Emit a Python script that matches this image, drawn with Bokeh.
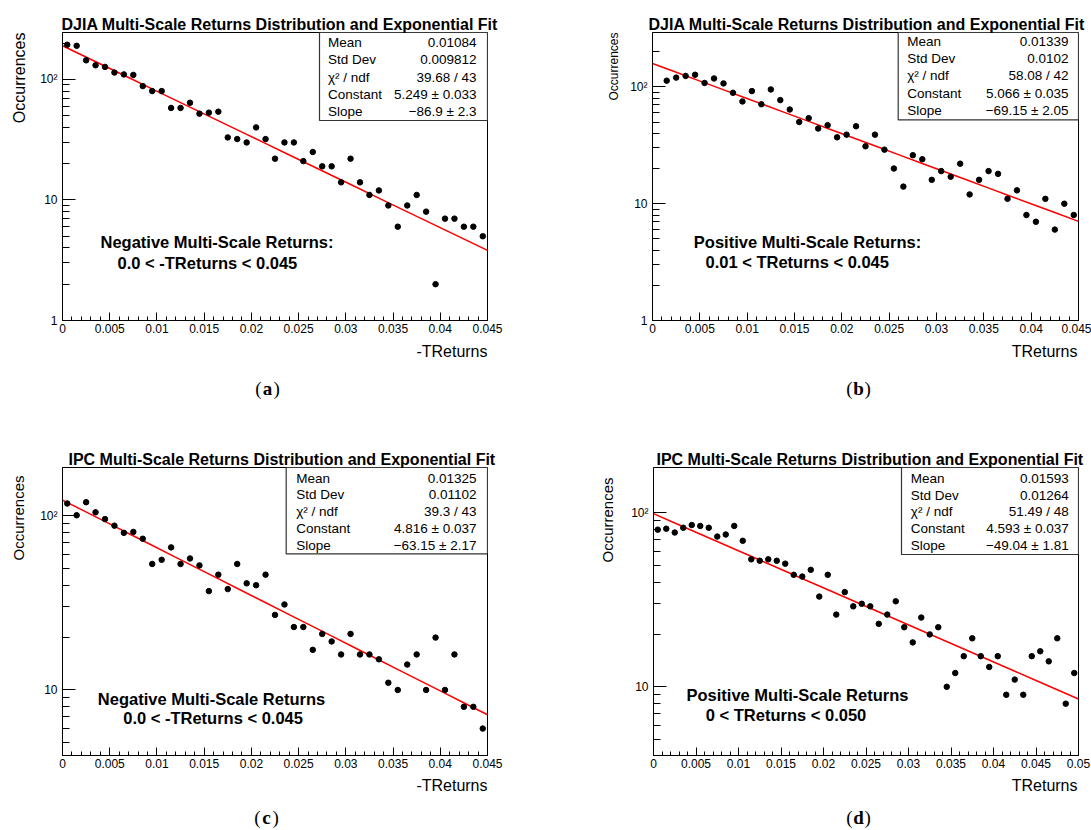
import numpy as np
from bokeh.plotting import figure
from bokeh.models import (FixedTicker, CustomJSTickFormatter, Label, BoxAnnotation, Range1d,
                          ColumnDataSource, Title)
from bokeh.layouts import row, column
from bokeh.embed import file_html
from bokeh.resources import INLINE

# ---------------- data ----------------
bin_width = 0.001

djia_neg_counts = [194, 190, 144, 131, 127, 114, 110, 109, 88, 80,
                   80, 58, 58, 64, 52, 53, 54, 33, 32, 30,
                   40, 32, 22, 30, 30, 21, 25, 19, 19, 14,
                   22, 14, 11, 12, 9, 6, 9, 11, 8, 2,
                   7, 7, 6, 6, 5]
djia_pos_counts = [0, 113, 120, 124, 127, 108, 118, 107, 89, 75,
                   92, 71, 95, 77, 64, 50, 54, 44, 47, 37,
                   39, 46, 31, 39, 29, 20, 14, 26, 24, 16,
                   19, 17, 22, 12, 16, 19, 18, 11, 13, 8,
                   7, 11, 6, 10, 8]
ipc_neg_counts = [118, 101, 120, 105, 96, 88, 80, 81, 74, 53,
                  56, 66, 53, 57, 52, 37, 46, 38, 53, 41,
                  40, 46, 27, 31, 23, 23, 17, 21, 19, 16,
                  21, 16, 16, 15, 11, 10, 14, 16, 10, 20,
                  10, 16, 8, 8, 6]
ipc_pos_counts = [80, 81, 77, 82, 85, 84, 82, 73, 75, 84,
                  69, 54, 53, 54, 53, 51, 44, 43, 47, 33,
                  44, 26, 35, 29, 30, 29, 23, 26, 31, 22,
                  18, 25, 20, 22, 10, 12, 15, 19, 15, 13,
                  15, 9, 11, 9, 15, 16, 14, 19, 8, 12]

fit_constants = [5.249, 5.066, 4.816, 4.593]
fit_slopes = [-86.9, -69.15, -63.15, -49.04]

stat_names = ["Mean", "Std Dev", "χ² / ndf", "Constant", "Slope"]
djia_neg_stats = ["0.01084", "0.009812", "39.68 / 43", "5.249 ± 0.033", "−86.9 ± 2.3"]
djia_pos_stats = ["0.01339", "0.0102", "58.08 / 42", "5.066 ± 0.035", "−69.15 ± 2.05"]
ipc_neg_stats = ["0.01325", "0.01102", "39.3 / 43", "4.816 ± 0.037", "−63.15 ± 2.17"]
ipc_pos_stats = ["0.01593", "0.01264", "51.49 / 48", "4.593 ± 0.037", "−49.04 ± 1.81"]

titles = ["DJIA Multi-Scale Returns Distribution and Exponential Fit",
          "DJIA Multi-Scale Returns Distribution and Exponential Fit",
          "IPC Multi-Scale Returns Distribution and Exponential Fit",
          "IPC Multi-Scale Returns Distribution and Exponential Fit"]
x_labels = ["-TReturns", "TReturns", "-TReturns", "TReturns"]
y_label = "Occurrences"
notes = [("Negative Multi-Scale Returns:", "0.0 < -TReturns < 0.045"),
         ("Positive Multi-Scale Returns:", "0.01 < TReturns < 0.045"),
         ("Negative Multi-Scale Returns", "0.0 < -TReturns < 0.045"),
         ("Positive Multi-Scale Returns", "0 < TReturns < 0.050")]
caption_letters = ["a", "b", "c", "d"]

x_ticks_045 = [0.0, 0.005, 0.01, 0.015, 0.02, 0.025, 0.03, 0.035, 0.04, 0.045]
x_ticks_050 = [0.0, 0.005, 0.01, 0.015, 0.02, 0.025, 0.03, 0.035, 0.04, 0.045, 0.05]
y_ticks = [1, 10, 100]
y_minor = [2, 3, 4, 5, 6, 7, 8, 9, 20, 30, 40, 50, 60, 70, 80, 90, 200, 300, 400, 500, 600, 700, 800, 900]
x_max = [0.045, 0.045, 0.045, 0.05]
y_ranges = [(1, 245), (1, 292), (4.2, 190), (4.03, 182)]

# ---------------- layout (page pixel geometry) ----------------
# ylab = (font px, standoff, offset from frame top) of the rotated axis title
panels = [
    dict(counts=djia_neg_counts, stats=djia_neg_stats, xt=x_ticks_045,
         main_cv=(0, 0, 553, 340), below_cv=(0, 340, 553, 60),
         frame=(62, 32, 487, 320), title_off=-1,
         ylab=(16, 16, 0), xlab=(487, 351), cap=(267, 388),
         note_pos=[(100, 241), (117, 262)],
         box=(319, 32, 487, 120), txt_lr=(327.5, 476), rows=(42, 17.25)),
    dict(counts=djia_pos_counts, stats=djia_pos_stats, xt=x_ticks_045,
         main_cv=(553, 0, 538, 340), below_cv=(553, 340, 538, 60),
         frame=(652, 32, 1078, 320), title_off=-4,
         ylab=(12, 8.6, 0), xlab=(1077, 351), cap=(858, 388),
         note_pos=[(693.3, 241.7), (705, 261.7)],
         box=(897.7, 32, 1078, 119.3), txt_lr=(906.7, 1068), rows=(41, 17.2)),
    dict(counts=ipc_neg_counts, stats=ipc_neg_stats, xt=x_ticks_045,
         main_cv=(0, 400, 553, 375), below_cv=(0, 775, 553, 55),
         frame=(62, 467, 487, 755), title_off=6,
         ylab=(15, 18, 8), xlab=(487, 785), cap=(266, 817),
         note_pos=[(97.3, 698.3), (122.7, 717.3)],
         box=(285.7, 467, 487, 553.3), txt_lr=(295.7, 476), rows=(477.7, 16.75)),
    dict(counts=ipc_pos_counts, stats=ipc_pos_stats, xt=x_ticks_050,
         main_cv=(553, 400, 538, 375), below_cv=(553, 775, 538, 55),
         frame=(653, 467, 1078, 755), title_off=3,
         ylab=(15, 20.8, 10), xlab=(1077, 785), cap=(858, 817),
         note_pos=[(686, 694.3), (705.3, 714.3)],
         box=(901, 467, 1078, 554), txt_lr=(910.3, 1068.3), rows=(477.7, 16.8)),
]

SANS = "Liberation Sans"
SERIF = "Liberation Serif"

x_fmt = CustomJSTickFormatter(code="""
let s = tick.toFixed(4);
s = s.replace(/0+$/, '');
if (s.endsWith('.')) { s = s.slice(0, -1); }
return s;
""")
y_fmt = CustomJSTickFormatter(code="""
if (tick >= 99) { return "10²"; }
return tick.toFixed(0);
""")


def add_text(p, frame, px, py, text, size, font=SANS, bold=False, align="left",
             baseline="middle", angle=0.0):
    fl, ft, fr, fb = frame
    p.add_layout(Label(x=px - fl, y=fb - py, x_units="screen", y_units="screen",
                       text=text, text_font=font, text_font_size=f"{size}px",
                       text_font_style="bold" if bold else "normal",
                       text_align=align, text_baseline=baseline, angle=angle,
                       text_color="black"))


def strip_fig(cv, fl, fr):
    """Text strip under a plot; its frame spans the same x extent as the plot frame."""
    x0, y0, w, h = cv
    p = figure(width=w, height=h, output_backend="svg", toolbar_location=None,
               title=None,
               x_range=Range1d(0, 1), y_range=Range1d(0, 1),
               x_axis_location=None, y_axis_location=None,
               min_border_left=fl - x0, min_border_right=(x0 + w) - fr,
               min_border_top=0, min_border_bottom=0)
    p.outline_line_color = None
    p.background_fill_color = "white"
    p.border_fill_color = "white"
    p.grid.visible = False
    return p, (fl, y0, fr, y0 + h)


def make_panel(i, cfg):
    # ---- main plot ----
    cx, cy, cw, ch = cfg["main_cv"]
    fl, ft, fr, fb = cfg["frame"]
    lo, hi = y_ranges[i]
    p = figure(width=cw, height=ch, output_backend="svg", toolbar_location=None,
               y_axis_type="log",
               x_range=Range1d(0, x_max[i]), y_range=Range1d(lo, hi),
               min_border_left=fl - cx, min_border_right=(cx + cw) - fr,
               min_border_top=ft - cy, min_border_bottom=(cy + ch) - fb)
    p.title.text = titles[i]
    p.title.align = "left"
    p.title.offset = cfg["title_off"]
    p.title.text_font = SANS
    p.title.text_font_size = "16px"
    p.title.text_font_style = "bold"
    p.title.text_color = "black"
    p.title.standoff = 0

    p.background_fill_color = "white"
    p.border_fill_color = "white"
    p.outline_line_color = "black"
    p.outline_line_alpha = 1
    p.outline_line_width = 1
    p.xgrid.visible = False
    p.ygrid.visible = False

    xt = cfg["xt"]
    n_minor = int(round(x_max[i] / bin_width))
    p.xaxis.ticker = FixedTicker(ticks=xt, minor_ticks=[k * bin_width for k in range(n_minor + 1)])
    p.xaxis.formatter = x_fmt
    p.yaxis.ticker = FixedTicker(ticks=y_ticks, minor_ticks=y_minor)
    p.yaxis.formatter = y_fmt
    for ax, mj, mn, sd in ((p.xaxis, 8, 4, 3), (p.yaxis, 13, 7, 5)):
        ax.major_tick_in = mj
        ax.major_tick_out = 0
        ax.minor_tick_in = mn
        ax.minor_tick_out = 0
        ax.axis_line_color = "black"
        ax.major_tick_line_color = "black"
        ax.minor_tick_line_color = "black"
        ax.major_label_text_font = SANS
        ax.major_label_text_font_size = "12px"
        ax.major_label_text_color = "black"
        ax.major_label_standoff = sd

    # rotated y-axis title, flush with the top of the frame
    ysz, ystand, yoff = cfg["ylab"]
    p.add_layout(Title(text=y_label, align="right", vertical_align="top",
                       offset=yoff, standoff=ystand,
                       text_font=SANS, text_font_size=f"{ysz}px",
                       text_font_style="normal", text_color="black"), "left")

    counts = np.array(cfg["counts"], dtype=float)
    centers = (np.arange(len(counts)) + 0.5) * bin_width
    keep = counts > 0
    src = ColumnDataSource(dict(x=centers[keep], y=counts[keep]))
    xs = np.linspace(0, x_max[i], 20)
    fit = np.exp(fit_constants[i] + fit_slopes[i] * xs)
    p.line(xs, fit, line_color="#ff0000", line_width=1.5)
    p.scatter("x", "y", source=src, size=5.5, color="black", marker="circle")

    frame = cfg["frame"]
    for (nx, ny), line in zip(cfg["note_pos"], notes[i]):
        add_text(p, frame, nx, ny, line, 16.5, bold=True)

    bl, bt, br, bb = cfg["box"]
    p.add_layout(BoxAnnotation(left=bl - fl, right=br - fl, top=fb - bt, bottom=fb - bb,
                               left_units="screen", right_units="screen",
                               top_units="screen", bottom_units="screen",
                               fill_color="white", fill_alpha=1.0,
                               line_color="#333333", line_width=1.2, line_alpha=1.0))
    tl, tr = cfg["txt_lr"]
    r0, dr = cfg["rows"]
    for k, (name, val) in enumerate(zip(stat_names, cfg["stats"])):
        yy = r0 + k * dr
        add_text(p, frame, tl, yy, name, 13.5)
        add_text(p, frame, tr, yy, val, 13.5, align="right")

    # ---- x label + caption strip ----
    pb, bframe = strip_fig(cfg["below_cv"], fl, fr)
    add_text(pb, bframe, cfg["xlab"][0], cfg["xlab"][1], x_labels[i], 16, align="right")
    capx, capy = cfg["cap"]
    add_text(pb, bframe, capx - 6, capy, "(", 19, font=SERIF, align="right")
    add_text(pb, bframe, capx, capy, caption_letters[i], 19, font=SERIF, bold=True, align="center")
    add_text(pb, bframe, capx + 6, capy, ")", 19, font=SERIF, align="left")

    return column(p, pb)


blocks = [make_panel(i, cfg) for i, cfg in enumerate(panels)]
layout = column(row(blocks[0], blocks[1]), row(blocks[2], blocks[3]))

open("out.html", "w").write(file_html(layout, INLINE))
